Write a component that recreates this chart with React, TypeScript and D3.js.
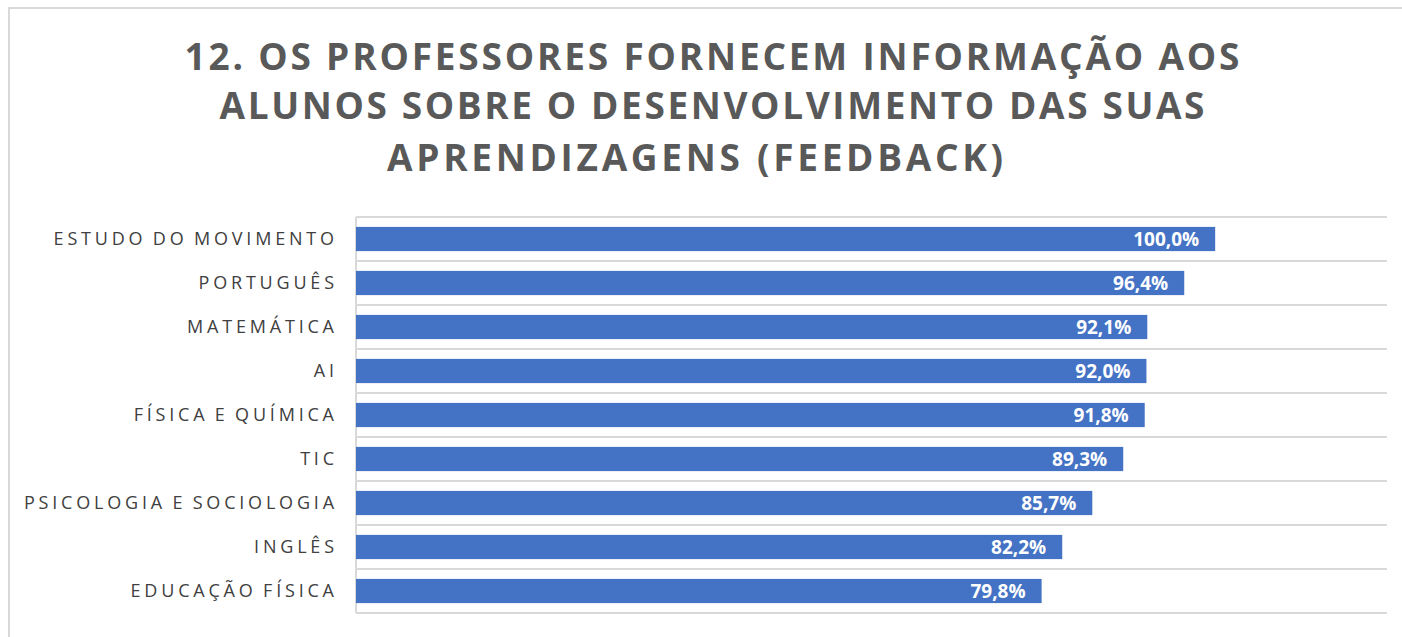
import { useMemo } from "react";
import * as d3 from "d3";

const WIDTH = 1402;
const HEIGHT = 637;
const MARGIN = { top: 217, right: 15, bottom: 24, left: 356 };

const categories = [
  "ESTUDO DO MOVIMENTO",
  "PORTUGUÊS",
  "MATEMÁTICA",
  "AI",
  "FÍSICA E QUÍMICA",
  "TIC",
  "PSICOLOGIA E SOCIOLOGIA",
  "INGLÊS",
  "EDUCAÇÃO FÍSICA",
];
const values = [1.0, 0.964, 0.921, 0.92, 0.918, 0.893, 0.857, 0.822, 0.798];
const titleLines = [
  "12. OS PROFESSORES FORNECEM INFORMAÇÃO AOS",
  "ALUNOS SOBRE O DESENVOLVIMENTO DAS SUAS",
  "APRENDIZAGENS (FEEDBACK)",
];

const BAR_COLOR = "#4472C4";
const GRID_COLOR = "#d9d9d9";
const FONT = "'Open Sans', 'DejaVu Sans', sans-serif";
const LABEL_LS = 3.8;

// title line placement (center x, baseline y, drawn width)
const TITLE_LAYOUT = [
  { cx: 712, y: 70, w: 1055 },
  { cx: 712, y: 119, w: 985 },
  { cx: 695, y: 171, w: 616 },
];

export default function App() {
  const boundsWidth = WIDTH - MARGIN.left - MARGIN.right;
  const boundsHeight = HEIGHT - MARGIN.top - MARGIN.bottom;

  // x axis goes 0 -> 120 %
  const xScale = useMemo(
    () => d3.scaleLinear().domain([0, 1.2]).range([0, boundsWidth]),
    [boundsWidth]
  );
  const yScale = useMemo(
    () =>
      d3
        .scaleBand<string>()
        .domain(categories)
        .range([0, boundsHeight])
        .paddingInner(0.45)
        .paddingOuter(0.225),
    [boundsHeight]
  );

  const fmt = (v: number) => (v * 100).toFixed(1).replace(".", ",") + "%";
  const step = yScale.step();
  const gridYs = d3.range(categories.length + 1).map((i) => i * step);

  return (
    <svg
      width={WIDTH}
      height={HEIGHT}
      style={{ position: "absolute", left: 0, top: 0, background: "#fff" }}
    >
      {/* chart area border (cropped at right and bottom) */}
      <rect x={9} y={8} width={WIDTH + 20} height={HEIGHT + 20} fill="#fff" stroke={GRID_COLOR} strokeWidth={2} />

      {titleLines.map((line, i) => (
        <text
          key={i}
          x={TITLE_LAYOUT[i].cx}
          y={TITLE_LAYOUT[i].y}
          textAnchor="middle"
          textLength={TITLE_LAYOUT[i].w}
          lengthAdjust="spacing"
          fontFamily={FONT}
          fontWeight={700}
          fontSize={37}
          fill="#595959"
        >
          {line}
        </text>
      ))}

      <g transform={`translate(${MARGIN.left},${MARGIN.top})`}>
        {gridYs.map((y, i) => (
          <line key={i} x1={0} x2={boundsWidth} y1={y} y2={y} stroke={GRID_COLOR} strokeWidth={2} />
        ))}
        <line x1={0} x2={0} y1={0} y2={boundsHeight} stroke={GRID_COLOR} strokeWidth={2} />

        {categories.map((c, i) => {
          const y = yScale(c) ?? 0;
          const bw = yScale.bandwidth();
          return (
            <g key={c}>
              <rect x={0} y={y} width={xScale(values[i])} height={bw} fill={BAR_COLOR} />
              <text
                x={xScale(values[i]) - 16}
                y={y + bw / 2}
                dy="0.36em"
                textAnchor="end"
                fontFamily={FONT}
                fontWeight={700}
                fontSize={19}
                fill="#fff"
              >
                {fmt(values[i])}
              </text>
              <text
                x={-22 + LABEL_LS}
                y={y + bw / 2}
                dy="0.36em"
                textAnchor="end"
                fontFamily={FONT}
                fontSize={18}
                letterSpacing={LABEL_LS}
                wordSpacing={-2}
                fill="#404040"
              >
                {c}
              </text>
            </g>
          );
        })}
      </g>
    </svg>
  );
}
